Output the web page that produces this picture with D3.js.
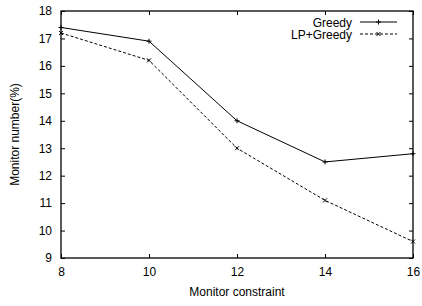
<!DOCTYPE html>
<html>
<head>
<meta charset="utf-8">
<script src="https://cdn.jsdelivr.net/npm/d3@7"></script>
<style>
  body { margin: 0; background: #fff; }
  text { font-family: "Liberation Sans", Arial, sans-serif; }
</style>
</head>
<body>
<div id="chart"></div>
<script>
// data
var constraints = [8, 10, 12, 14, 16];
var greedy = [17.4, 16.9, 14.0, 12.5, 12.8];
var lpGreedy = [17.2, 16.2, 13.0, 11.1, 9.6];
var yTicks = [9, 10, 11, 12, 13, 14, 15, 16, 17, 18];
var seriesNames = ["Greedy", "LP+Greedy"];

var svgWidth = 422;
var svgHeight = 306;
var plotLeft = 61, plotRight = 413, plotTop = 11, plotBottom = 258;
var tickLen = 4;

var svg = d3.select("#chart").append("svg")
    .attr("width", svgWidth)
    .attr("height", svgHeight);

var xScale = d3.scaleLinear().domain([8, 16]).range([plotLeft, plotRight]);
var yScale = d3.scaleLinear().domain([9, 18]).range([plotBottom, plotTop]);

// axes: inward ticks, mirrored on top/right
var xAxisCall = d3.axisBottom(xScale).tickValues(constraints).tickSize(-tickLen).tickPadding(9);
var yAxisCall = d3.axisLeft(yScale).tickValues(yTicks).tickSize(-tickLen).tickPadding(9);
var xTopCall = d3.axisTop(xScale).tickValues(constraints).tickSize(-tickLen).tickFormat("");
var yRightCall = d3.axisRight(yScale).tickValues(yTicks).tickSize(-tickLen).tickFormat("");

function styleAxis(g) {
    g.select(".domain").remove();
    g.selectAll("line").attr("stroke", "#000").attr("stroke-width", 1);
    g.selectAll("text").attr("font-size", "12px").attr("fill", "#000")
        .style("font-family", "'Liberation Sans', Arial, sans-serif");
}

svg.append("g").attr("transform", `translate(0,${plotBottom})`).call(xAxisCall).call(styleAxis);
svg.append("g").attr("transform", `translate(${plotLeft},0)`).call(yAxisCall).call(styleAxis);
svg.append("g").attr("transform", `translate(0,${plotTop})`).call(xTopCall).call(styleAxis);
svg.append("g").attr("transform", `translate(${plotRight},0)`).call(yRightCall).call(styleAxis);

// frame
svg.append("rect")
    .attr("x", plotLeft).attr("y", plotTop)
    .attr("width", plotRight - plotLeft).attr("height", plotBottom - plotTop)
    .attr("fill", "none").attr("stroke", "#000").attr("stroke-width", 1.3);

// axis titles
svg.append("text")
    .attr("x", (plotLeft + plotRight) / 2).attr("y", 296)
    .attr("text-anchor", "middle").attr("font-size", "12px")
    .text("Monitor constraint");

svg.append("text")
    .attr("transform", `translate(19,${(plotTop + plotBottom) / 2}) rotate(-90)`)
    .attr("text-anchor", "middle").attr("font-size", "12px")
    .text("Monitor number(%)");

var line = d3.line()
    .x((d, i) => xScale(constraints[i]))
    .y(d => yScale(d));

var dash = "3,2";

svg.append("path").datum(greedy)
    .attr("d", line).attr("fill", "none")
    .attr("stroke", "#000").attr("stroke-width", 1);

svg.append("path").datum(lpGreedy)
    .attr("d", line).attr("fill", "none")
    .attr("stroke", "#000").attr("stroke-width", 1).attr("stroke-dasharray", dash);

function plus(g, x, y) {
    g.append("path").attr("d", `M${x - 2.5},${y}H${x + 2.5}M${x},${y - 2.5}V${y + 2.5}`)
        .attr("stroke", "#000").attr("stroke-width", 1);
}
function cross(g, x, y) {
    g.append("path").attr("d", `M${x - 2},${y - 2}L${x + 2},${y + 2}M${x - 2},${y + 2}L${x + 2},${y - 2}`)
        .attr("stroke", "#000").attr("stroke-width", 1);
}

var marks = svg.append("g");
greedy.forEach((v, i) => plus(marks, xScale(constraints[i]), yScale(v)));
lpGreedy.forEach((v, i) => cross(marks, xScale(constraints[i]), yScale(v)));

// legend
var legend = svg.append("g");
var legRows = [22, 34];
seriesNames.forEach((name, i) => {
    var y = legRows[i];
    legend.append("text")
        .attr("x", 352).attr("y", y + 4.5)
        .attr("text-anchor", "end").attr("font-size", "12px")
        .text(name);
    var l = legend.append("line")
        .attr("x1", 360).attr("x2", 397).attr("y1", y).attr("y2", y)
        .attr("stroke", "#000").attr("stroke-width", 1);
    if (i === 1) l.attr("stroke-dasharray", dash);
    if (i === 0) plus(legend, 378.5, y); else cross(legend, 378.5, y);
});
</script>
</body>
</html>
